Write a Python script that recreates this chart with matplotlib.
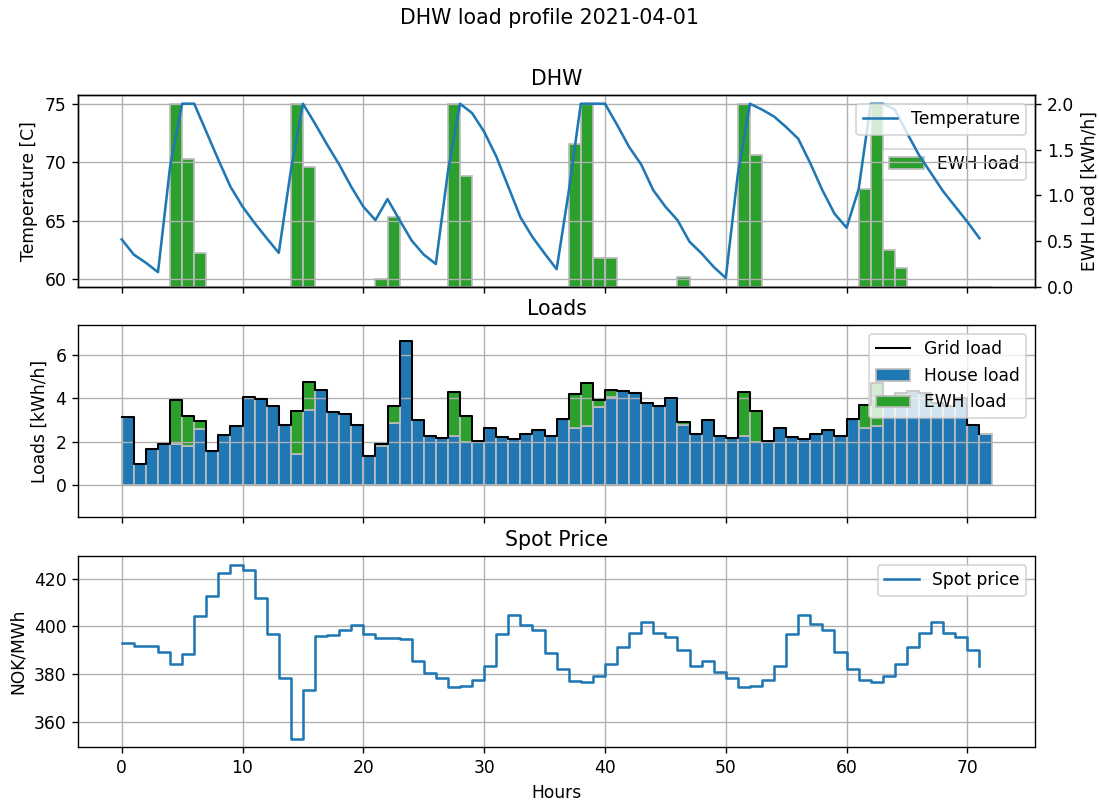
import numpy as np
import matplotlib
matplotlib.use("Agg")
import matplotlib.pyplot as plt

hours = np.arange(72)

temperature = [63.4, 62.1, 61.4, 60.6, 69.6, 75.0, 75.0, 72.6, 70.2, 67.9, 66.2, 64.8,
               63.5, 62.25, 69.3, 75.0, 73.3, 71.5, 69.8, 67.9, 66.2, 65.05, 66.85, 65.05,
               63.3, 62.1, 61.3, 69.2, 75.0, 74.2, 72.6, 70.5, 67.9, 65.3, 63.6, 62.2,
               60.85, 67.5, 75.0, 75.0, 75.0, 73.2, 71.3, 69.8, 67.6, 66.2, 65.05, 63.2,
               62.2, 61.05, 60.1, 69.0, 75.0, 74.5, 73.9, 73.0, 72.0, 69.9, 67.6, 65.6,
               64.4, 67.7, 75.0, 75.0, 74.5, 72.5, 70.6, 69.05, 67.5, 66.2, 64.9, 63.5]

ewh_load = [0, 0, 0, 0, 2.0, 1.40, 0.37, 0, 0, 0, 0, 0,
            0, 0, 2.0, 1.31, 0, 0, 0, 0, 0, 0.08, 0.76, 0,
            0, 0, 0, 2.0, 1.21, 0, 0, 0, 0, 0, 0, 0,
            0, 1.56, 2.0, 0.32, 0.32, 0, 0, 0, 0, 0, 0.11, 0,
            0, 0, 0, 2.0, 1.44, 0, 0, 0, 0, 0, 0, 0,
            0, 1.07, 2.0, 0.40, 0.20, 0, 0, 0, 0, 0, 0, 0]

house_load = [3.14, 0.96, 1.68, 1.91, 1.90, 1.78, 2.57, 1.58, 2.30, 2.73, 4.04, 3.95,
              3.63, 2.79, 1.41, 3.44, 4.36, 3.37, 3.26, 2.76, 1.33, 1.82, 2.88, 6.66,
              2.99, 2.27, 2.19, 2.28, 1.96, 2.03, 2.63, 2.22, 2.11, 2.34, 2.53, 2.28,
              3.06, 2.63, 2.71, 3.61, 4.05, 4.32, 4.26, 3.80, 3.63, 4.01, 2.79, 2.34,
              2.99, 2.27, 2.19, 2.28, 1.96, 2.03, 2.63, 2.22, 2.11, 2.34, 2.53, 2.28,
              3.06, 2.63, 2.71, 3.61, 4.05, 4.32, 4.26, 3.80, 3.63, 4.01, 2.79, 2.34]

spot_price = [393.0, 392.0, 391.9, 389.5, 384.4, 388.4, 404.5, 412.8, 422.5, 425.8, 423.5, 412.1,
              396.9, 378.4, 353.2, 373.6, 396.2, 396.4, 398.5, 400.6, 396.9, 395.3, 395.1, 394.6,
              385.6, 380.5, 378.7, 374.7, 375.0, 377.7, 383.6, 396.7, 405.0, 400.6, 398.5, 389.1,
              382.3, 377.4, 376.8, 379.5, 384.5, 391.6, 397.4, 401.7, 397.1, 395.5, 390.2, 383.7,
              385.8, 380.8, 378.7, 374.7, 375.0, 377.7, 383.6, 396.7, 405.0, 400.9, 398.5, 389.2,
              382.3, 377.5, 376.8, 379.5, 384.5, 391.6, 397.4, 401.7, 397.1, 395.5, 390.2, 383.3]

house = np.array(house_load)
ewh = np.array(ewh_load)
grid_load = house + ewh

BLUE = "#1f77b4"
GREEN = "#2ca02c"
EDGE = "#bdbdbd"

DPI = 123
fig = plt.figure(figsize=(1099 / DPI, 800 / DPI), dpi=DPI)
L, W = 0.0712, 0.9418 - 0.0712
ax1 = fig.add_axes([L, 0.6416, W, 0.88125 - 0.6416])
ax_l = fig.add_axes([L, 0.3534, W, 0.59375 - 0.3534], sharex=ax1)
ax_p = fig.add_axes([L, 0.0659, W, 0.305 - 0.0659], sharex=ax1)

fig.suptitle("DHW load profile 2021-04-01", fontsize=12, y=0.99)

# --- DHW panel ---
ax2 = ax1.twinx()
ax2.bar(hours, ewh, width=1.0, align="edge", color=GREEN, edgecolor=EDGE,
        linewidth=1.0, label="EWH load")
ax2.set_ylabel("EWH Load [kWh/h]")
ln, = ax1.plot(hours, temperature, color=BLUE, label="Temperature")
ax1.set_ylabel("Temperature [C]")
ax1.set_title("DHW")
ax1.grid(True)
ax1.set_zorder(ax2.get_zorder() + 1)
ax1.patch.set_visible(False)
ax1.legend(loc="upper right")
ax2.legend(loc="upper right", bbox_to_anchor=(1.0, 0.765))
ax1.set_yticks([60, 65, 70, 75])
ax2.set_yticks([0.0, 0.5, 1.0, 1.5, 2.0])

# --- Loads panel ---
ax_l.step(hours, grid_load, where="post", color="black", linewidth=1.2,
          label="Grid load", zorder=3)
ax_l.bar(hours, house, width=1.0, align="edge", color=BLUE, edgecolor=EDGE,
         linewidth=1.0, label="House load")
ax_l.bar(hours, ewh, bottom=house, width=1.0, align="edge", color=GREEN,
         edgecolor=EDGE, linewidth=1.0, label="EWH load")
ax_l.set_ylim(-1.49, 7.38)
ax_l.set_yticks([0, 2, 4, 6])
ax_l.set_ylabel("Loads [kWh/h]")
ax_l.set_title("Loads")
ax_l.grid(True)
ax_l.legend(loc="upper right")

# --- Spot price panel ---
ax_p.step(hours, spot_price, where="post", color=BLUE, label="Spot price")
ax_p.set_ylabel("NOK/MWh")
ax_p.set_xlabel("Hours")
ax_p.set_title("Spot Price")
ax_p.grid(True)
ax_p.legend(loc="upper right")
ax_p.set_yticks([360, 380, 400, 420])

ax1.set_xlim(-3.6, 75.6)
ax1.set_xticks([0, 10, 20, 30, 40, 50, 60, 70])
plt.setp(ax1.get_xticklabels(), visible=False)
plt.setp(ax_l.get_xticklabels(), visible=False)

fig.savefig("out.png", dpi=DPI)
